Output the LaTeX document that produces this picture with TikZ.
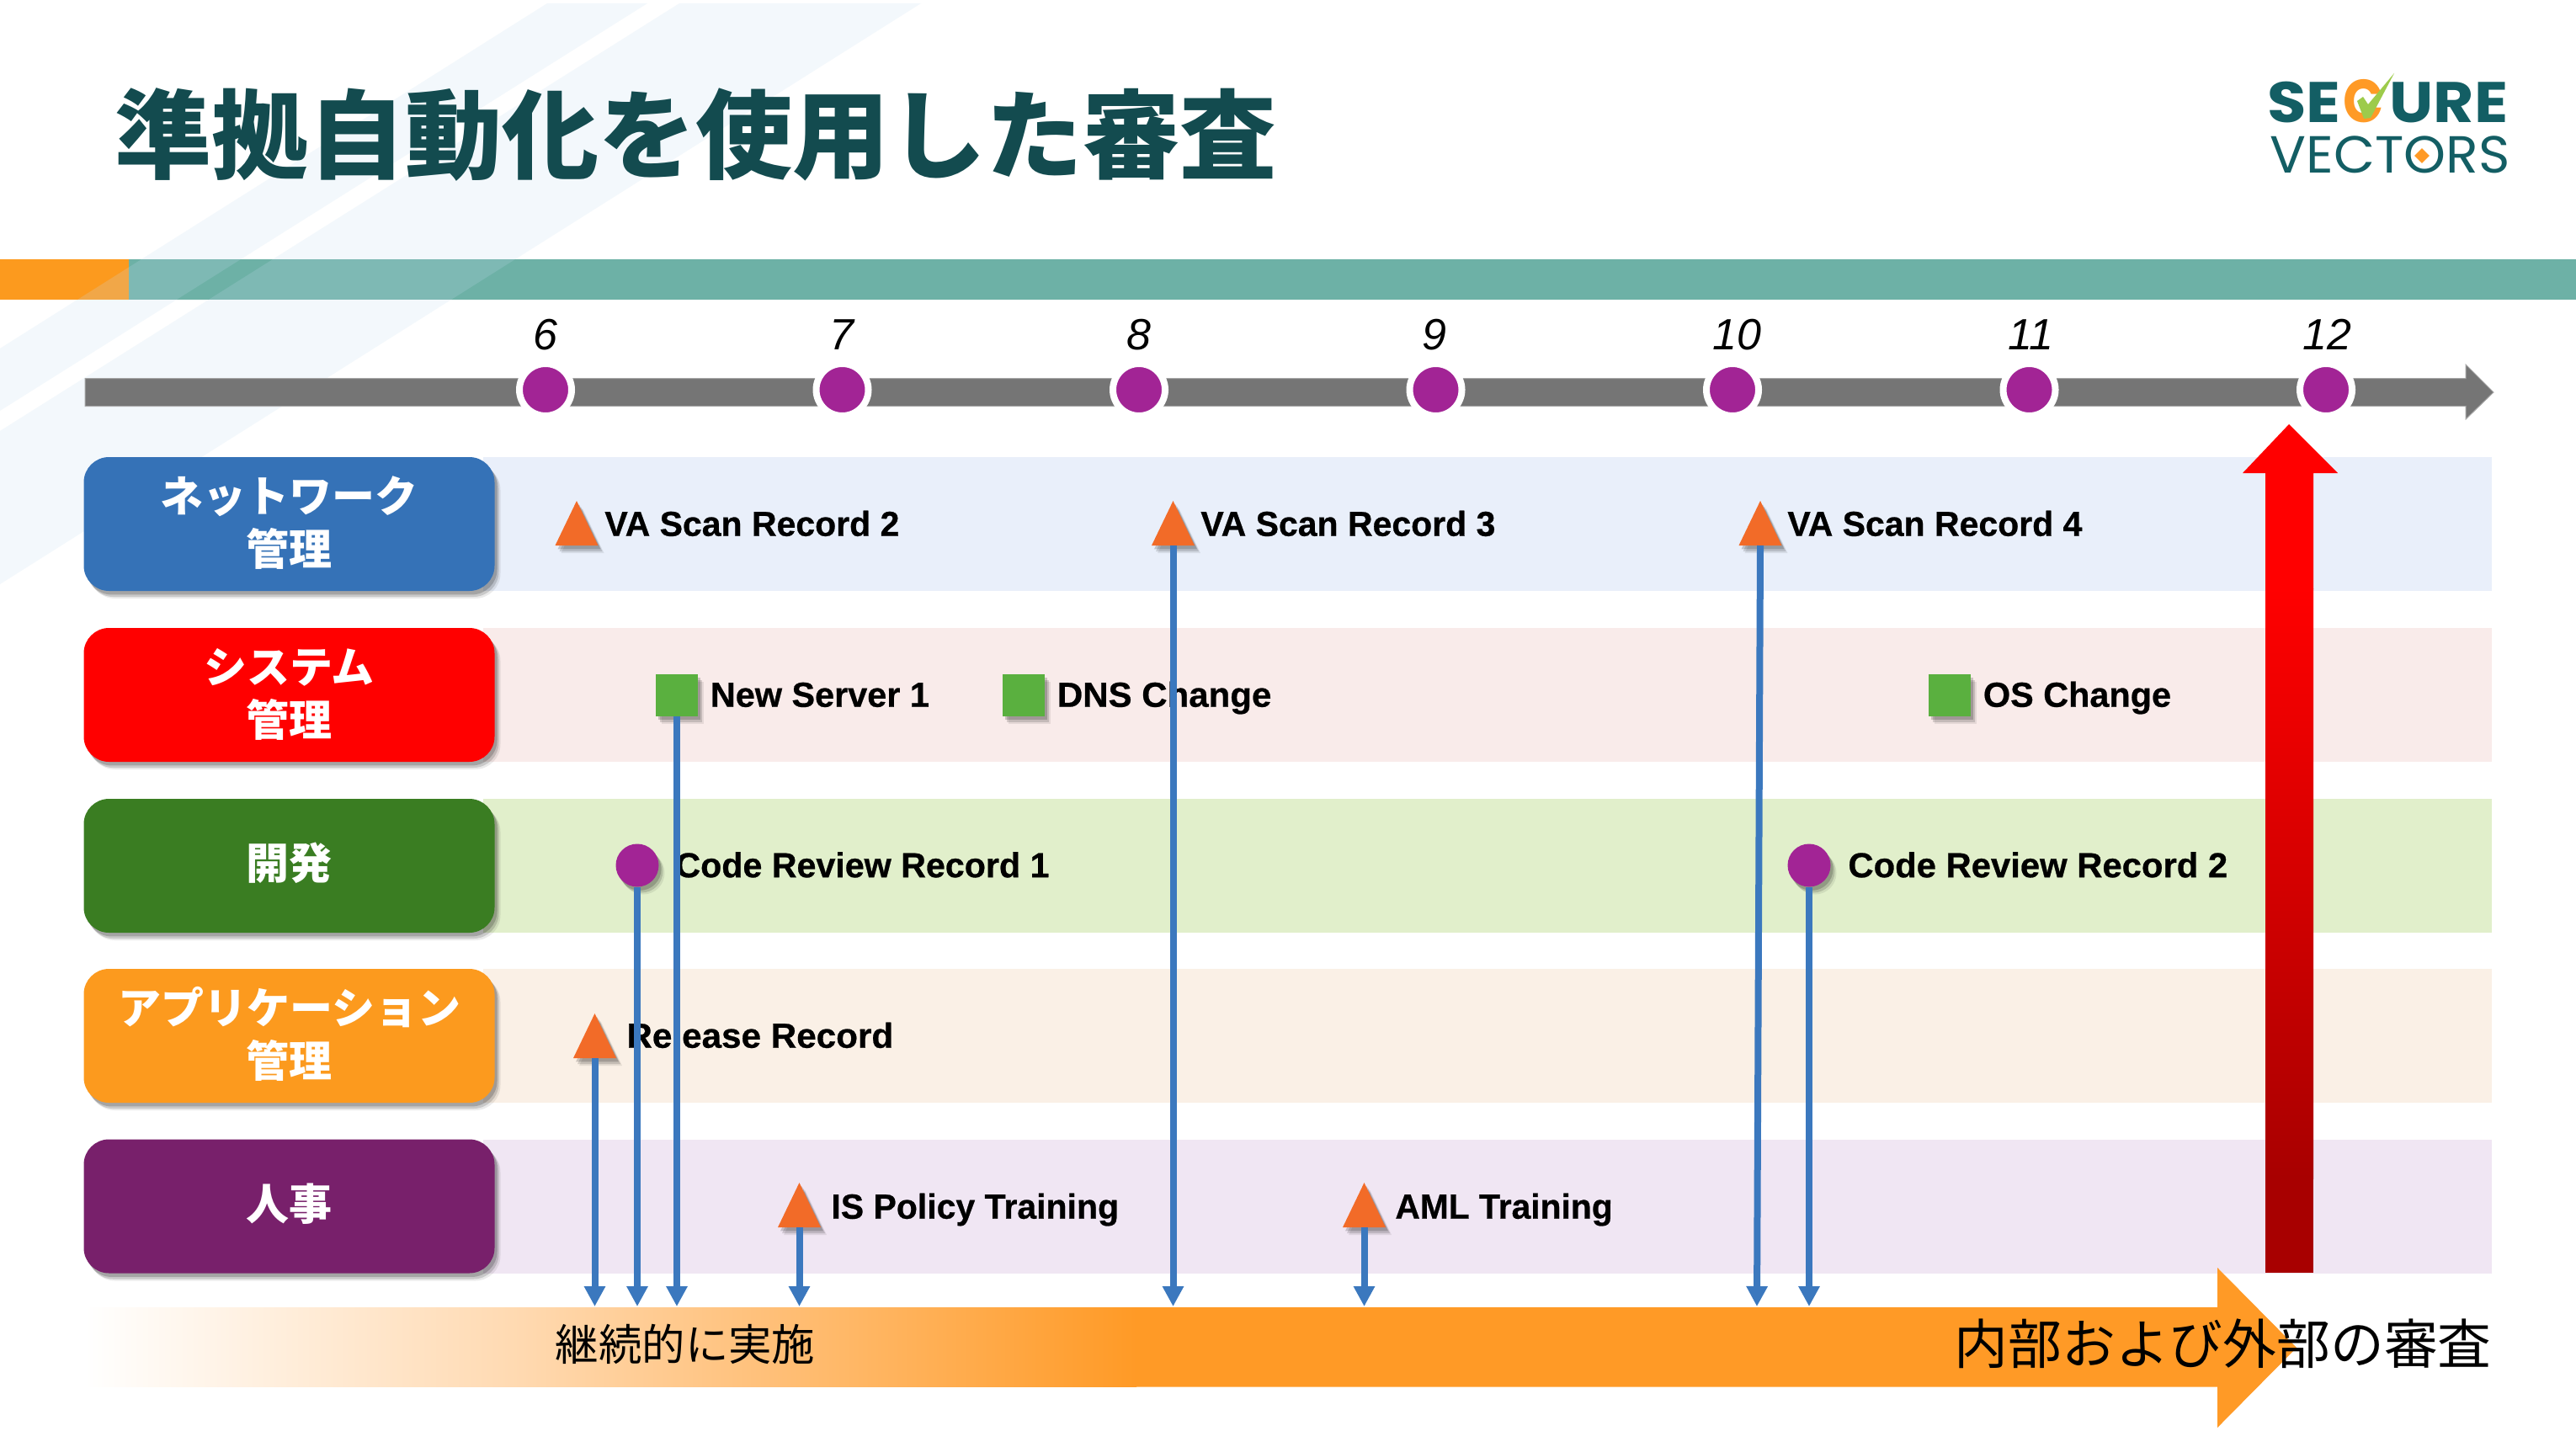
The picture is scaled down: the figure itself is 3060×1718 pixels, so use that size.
\documentclass[tikz,border=0pt]{standalone}
\usepackage{fontspec}
\setmainfont{Liberation Sans}
\newfontfamily\cjk{Noto Sans CJK JP}
\newfontfamily\logofont{Poppins}
\newfontfamily\itemfont[BoldFeatures={FakeBold=0.6}]{Liberation Sans}
\usetikzlibrary{shapes.geometric,shadows,arrows.meta}
\definecolor{titlec}{HTML}{134B4F}
\definecolor{teal}{HTML}{6DB1A6}
\definecolor{orangeA}{HTML}{FC9A1E}
\definecolor{orangeB}{HTML}{FF9A26}
\definecolor{orangeC}{HTML}{FFD9B0}
\definecolor{diag}{HTML}{C5DDF0}
\definecolor{tlgray}{HTML}{757575}
\definecolor{dotc}{HTML}{A22495}
\definecolor{triC}{HTML}{F26B28}
\definecolor{sqC}{HTML}{5AB03F}
\definecolor{arrC}{HTML}{3B78BE}
\definecolor{logoC}{HTML}{135E64}
\definecolor{checkC}{HTML}{9DCB4B}
\definecolor{boxA}{HTML}{3572B7}
\definecolor{boxB}{HTML}{FF0000}
\definecolor{boxC}{HTML}{3A7D22}
\definecolor{boxD}{HTML}{FC9A1E}
\definecolor{boxE}{HTML}{78206B}
\definecolor{bandA}{HTML}{E9EFFA}
\definecolor{bandB}{HTML}{F9EBEA}
\definecolor{bandC}{HTML}{E1EFCB}
\definecolor{bandD}{HTML}{FAF0E6}
\definecolor{bandE}{HTML}{F0E6F3}
\definecolor{redD}{HTML}{A80000}
\newcommand{\rowtext}[2][4.8pt]{\vbox{\vskip#1\hbox{\begin{tabular}{@{}c@{}}#2\end{tabular}}}}
\tikzset{
  softshadow/.style={general shadow={shadow xshift=3.5pt,shadow yshift=-4.5pt,fill=black,opacity=.08},
                     general shadow={shadow xshift=2.5pt,shadow yshift=-3.5pt,fill=black,opacity=.14},
                     general shadow={shadow xshift=1.5pt,shadow yshift=-2.2pt,fill=black,opacity=.18}},
  rowbox/.style={rectangle,rounded corners=15pt,minimum width=244pt,minimum height=79.5pt,inner sep=0pt,outer sep=0pt,
     softshadow,text=white,font=\cjk\bfseries\fontsize{25.5}{31}\selectfont},
  rowband/.style={rectangle,minimum width=1193pt,minimum height=79.5pt,inner sep=0pt,outer sep=0pt,anchor=west},
  item/.style={inner sep=0pt,anchor=west,text height=14.7pt,text depth=0pt,font=\itemfont\bfseries\fontsize{20.7}{24}\selectfont},
  tick/.style={circle,draw=white,line width=4pt,fill=dotc,minimum size=31pt,inner sep=0pt},
  month/.style={inner sep=0pt,font=\itshape\fontsize{26}{30}\selectfont},
  tri/.style={isosceles triangle,isosceles triangle stretches,shape border rotate=90,minimum width=25.5pt,minimum height=26.5pt,inner sep=0pt,outer sep=0pt,anchor=apex,fill=triC,softshadow},
  sq/.style={rectangle,minimum size=25pt,inner sep=0pt,outer sep=0pt,fill=sqC,softshadow},
  dot/.style={circle,minimum size=25.5pt,inner sep=0pt,outer sep=0pt,fill=dotc,softshadow},
  link/.style={draw=arrC,line width=4pt,-{Triangle[length=12pt,width=12pt]}},
  logotext/.style={inner sep=0pt,text=logoC,anchor=west,text height=24pt,text depth=0pt}
}
\begin{document}
\begin{tikzpicture}[x=0.5pt,y=-0.5pt]
\useasboundingbox (0,0) rectangle (3060,1718);
\fill[white] (0,0) rectangle (3060,1718);
% header band
\fill[teal] (153,308) rectangle (3060,356);
\fill[orangeA] (0,308) rectangle (153,356);
% background diagonals
\fill[diag,opacity=.2] (650,4) -- (769,4) -- (0,488) -- (0,414) -- cycle;
\fill[diag,opacity=.2] (807,4) -- (1094,4) -- (0,694) -- (0,512) -- cycle;
% title
\node[inner sep=0pt,anchor=west,text=titlec,font=\cjk\bfseries\fontsize{57.5}{60}\selectfont] (title) at (136,160) {準拠自動化を使用した審査};
% logo
\node[logotext,xscale=1.11,font=\logofont\bfseries\fontsize{34}{36}\selectfont] (logoSE) at (2693,122) {SE};
\node[logotext,xscale=.88,text=orangeB,font=\logofont\bfseries\fontsize{36}{36}\selectfont] (logoC) at (2783,122) {C};
\node[logotext,xscale=1.09,font=\logofont\bfseries\fontsize{34}{36}\selectfont] (logoURE) at (2838,122) {URE};
\fill[checkC] (2800,120) -- (2807,115) -- (2813,124) -- (2844,87) -- (2816,140) -- (2808,141) -- cycle;
\node[logotext,text height=21.7pt,xscale=1.025,font=\logofont\fontsize{31}{34}\selectfont] (logoV) at (2696,183.5) {VECTORS};
\node[diamond,fill=orangeB,minimum size=9pt,inner sep=0pt] (logoD) at (2877,185) {};
% timeline
\draw[fill=tlgray,draw=black!35,line width=.5pt] (101,449.5) -- (2929,449.5) -- (2929,433) -- (2962,466) -- (2929,498) -- (2929,482.5) -- (101,482.5) -- cycle;
\foreach \n/\x/\lx in {6/648/648,7/1000.5/1000,8/1353/1353,9/1705.5/1704,10/2058/2063,11/2410.5/2412,12/2763/2764}{
  \node[tick] (tick\n) at (\x,463) {};
  \node[month] (month\n) at (\lx,397.5) {\n};
}
% row bands
\node[rowband,fill=bandA] (bandA) at (574,622.5) {};
\node[rowband,fill=bandB] (bandB) at (574,825.5) {};
\node[rowband,fill=bandC] (bandC) at (574,1028.5) {};
\node[rowband,fill=bandD] (bandD) at (574,1230.5) {};
\node[rowband,fill=bandE] (bandE) at (574,1433) {};
% row boxes
\node[rowbox,fill=boxA] (boxA) at (343.5,622.5) {\rowtext{ネットワーク\\管理}};
\node[rowbox,fill=boxB] (boxB) at (343.5,825.5) {\rowtext{システム\\管理}};
\node[rowbox,fill=boxC] (boxC) at (343.5,1028.5) {\rowtext[3pt]{開発}};
\node[rowbox,fill=boxD] (boxD) at (343.5,1230.5) {\rowtext{アプリケーション\\管理}};
\node[rowbox,fill=boxE] (boxE) at (343.5,1433) {\rowtext[3.6pt]{人事}};
% orange arrow
\shade[left color=white,right color=orangeC] (100,1553) rectangle (620,1647.5);
\shade[left color=orangeC,right color=orangeB] (619,1553) rectangle (1350,1647.5);
\fill[orangeB] (1349,1553) -- (2634,1553) -- (2634,1506) -- (2728,1601) -- (2634,1696) -- (2634,1647.5) -- (1349,1647.5) -- cycle;
\node[inner sep=0pt,font=\cjk\fontsize{25.7}{30}\selectfont] (contin) at (814,1597) {継続的に実施};
\node[inner sep=0pt,anchor=east,font=\cjk\fontsize{31.9}{36}\selectfont] (audit) at (2960,1596) {内部および外部の審査};
% red arrow
\fill[red] (2719,504) -- (2777,562) -- (2748,562) -- (2748,700) -- (2691,700) -- (2691,562) -- (2664,562) -- cycle;
\shade[top color=red,bottom color=redD] (2691,699) rectangle (2748,1400);
\fill[redD] (2691,1399) rectangle (2748,1512);
% items
\node[tri] (vaTwo) at (685,595) {};
\node[item,xscale=.99] (vaTwoT) at (718,622) {VA Scan Record 2};
\node[tri] (vaThree) at (1393.5,595) {};
\node[item,xscale=.99] (vaThreeT) at (1426,622) {VA Scan Record 3};
\node[tri] (vaFour) at (2091,595) {};
\node[item,xscale=.99] (vaFourT) at (2123,622) {VA Scan Record 4};
\node[sq] (srv) at (804,826) {};
\node[item] (srvT) at (843.5,825) {New Server 1};
\node[sq] (dns) at (1216,826) {};
\node[item,xscale=1.015] (dnsT) at (1255.5,825) {DNS Change};
\node[sq] (os) at (2316,826) {};
\node[item] (osT) at (2355.5,825) {OS Change};
\node[dot] (crOne) at (757,1028) {};
\node[item,xscale=.995] (crOneT) at (802,1027.5) {Code Review Record 1};
\node[dot] (crTwo) at (2149,1028) {};
\node[item,xscale=1.01] (crTwoT) at (2195,1027.5) {Code Review Record 2};
\node[tri] (rel) at (706.5,1204) {};
\node[item,xscale=1.02] (relT) at (744,1230) {Release Record};
\node[tri] (isp) at (949.5,1405) {};
\node[item,xscale=.99] (ispT) at (987,1433) {IS Policy Training};
\node[tri] (aml) at (1620.5,1405) {};
\node[item,xscale=.985] (amlT) at (1657,1433) {AML Training};
% connector ends
\coordinate (endRel) at (706.5,1552);
\coordinate (endCr) at (757,1552);
\coordinate (endSrv) at (804,1552);
\coordinate (endIsp) at (949.5,1552);
\coordinate (endVaThree) at (1393.5,1552);
\coordinate (endAml) at (1620.5,1552);
\coordinate (endVaFour) at (2087,1552);
\coordinate (endCrTwo) at (2149,1552);
% connectors
\draw[link] (rel.south) -- (endRel);
\draw[link] (crOne.south) -- (endCr);
\draw[link] (srv.south) -- (endSrv);
\draw[link] (isp.south) -- (endIsp);
\draw[link] (vaThree.south) -- (endVaThree);
\draw[link] (aml.south) -- (endAml);
\draw[link] (vaFour.south) -- (endVaFour);
\draw[link] (crTwo.south) -- (endCrTwo);
\end{tikzpicture}
\end{document}
